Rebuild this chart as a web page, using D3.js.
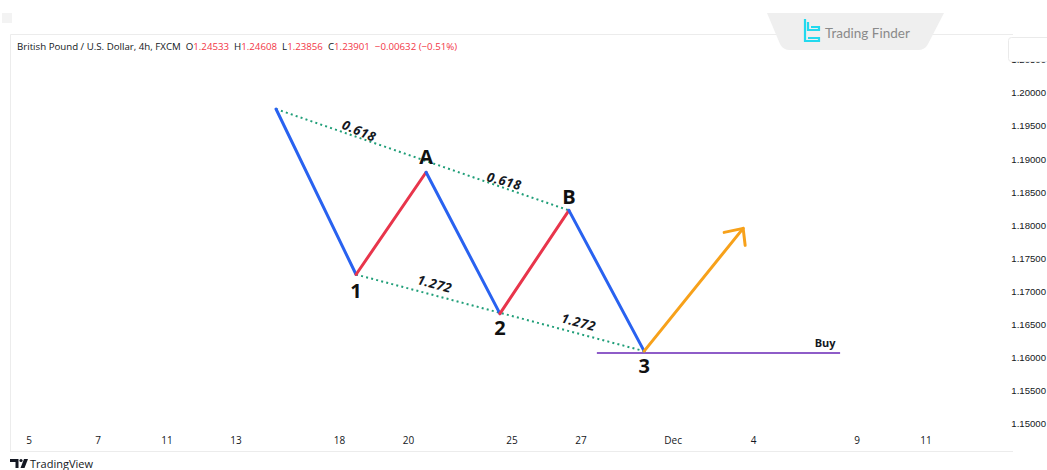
<!DOCTYPE html>
<html><head><meta charset="utf-8">
<script src="https://cdn.jsdelivr.net/npm/d3@7"></script>
<style>html,body{margin:0;padding:0;background:#fff;}svg{display:block;}</style>
</head><body>
<svg id="c" width="1047" height="470"></svg>
<script>
// ---- data ----
const dateTicks = ["5","7","11","13","18","20","25","27","Dec","4","9","11"];
const dateTickIndex = [0,2,4,6,9,11,14,16,18.67,21,24,26];
const priceTicks = [1.150,1.155,1.160,1.165,1.170,1.175,1.180,1.185,1.190,1.195,1.200,1.205];
const waveNames = ["start","1","A","2","B","3"];
const waveIndex = [7.16,9.48,11.51,13.65,15.65,17.83];
const wavePrice = [1.19758,1.17258,1.18803,1.16667,1.18227,1.16101];
const targetIndex = 20.70, targetPrice = 1.17955;
const buyStart = 16.46, buyEnd = 23.51, buyPrice = 1.16073;
const fibLabels = ["0.618","0.618","1.272","1.272"];
const fibLegs = [[0,2],[2,4],[1,3],[3,5]];
const headerParts = [["British Pound / U.S. Dollar, 4h, FXCM  ","#131722"],["O","#131722"],["1.24533  ","#f23645"],["H","#131722"],["1.24608  ","#f23645"],["L","#131722"],["1.23856  ","#f23645"],["C","#131722"],["1.23901  ","#f23645"],["\u22120.00632 (\u22120.51%)","#f23645"]];

// ---- scales ----
const x = d3.scaleLinear().domain([0,26]).range([29,926]);
const y = d3.scaleLinear().domain([1.15,1.20]).range([424,93]);
const svg = d3.select("#c");
const font = "'Open Sans', 'DejaVu Sans', sans-serif";

// frame
svg.append("rect").attr("x",2).attr("y",13).attr("width",10).attr("height",10).attr("fill","#f3f3f3");
svg.append("path").attr("d","M10.5,451 V34.5 H1013").attr("fill","none").attr("stroke","#ececec");
svg.append("line").attr("x1",10).attr("x2",1013).attr("y1",451.5).attr("y2",451.5).attr("stroke","#ececec");

// watermark tab
svg.append("path").attr("d","M767,13 H944 L928,44 Q925,50 918,50 H790 Q783,50 780,44 Z").attr("fill","#efefef");
const logo = svg.append("g").attr("fill","none").attr("stroke","#22d9ee").attr("stroke-width",2.2);
logo.append("path").attr("d","M805,19 V41 H819 V38 H808");
logo.append("path").attr("d","M808,22 V30 H819 V27 H811");
svg.append("text").attr("x",825).attr("y",38).attr("font-family","Lato, 'Open Sans', sans-serif").attr("font-size",13.5).attr("fill","#8a8a8a").text("Trading Finder");

// header
const h = svg.append("text").attr("x",17).attr("y",49.5).attr("font-family",font).attr("font-size",9.7).attr("xml:space","preserve");
headerParts.forEach(p=>h.append("tspan").attr("fill",p[1]).text(p[0]));

// price axis
svg.selectAll("text.py").data(priceTicks).join("text").attr("class","py")
  .attr("x",1046).attr("y",d=>y(d)).attr("dy","0.35em").attr("text-anchor","end")
  .attr("font-family","'Liberation Sans', Arial, sans-serif").attr("font-size",9.6).attr("fill","#131722")
  .text(d=>d3.format(".5f")(d));
svg.append("rect").attr("x",1008.5).attr("y",37.5).attr("width",45).attr("height",24).attr("rx",3)
  .attr("fill","#fff").attr("stroke","#eaeaea");

// date axis
svg.selectAll("text.dx").data(dateTicks).join("text").attr("class","dx")
  .attr("x",(d,i)=>x(dateTickIndex[i])).attr("y",440).attr("dy","0.35em").attr("text-anchor","middle")
  .attr("font-family",font).attr("font-size",10).attr("fill","#131722").text(d=>d);

// TradingView footer logo
const tv = svg.append("g").attr("fill","#131722");
tv.append("path").attr("d","M10,459 H18.5 V468 H15.5 V462 H10 Z");
tv.append("circle").attr("cx",21).attr("cy",460.5).attr("r",1.6);
tv.append("path").attr("d","M24,459 H28 L24.5,468 H20.5 Z");
svg.append("text").attr("x",30).attr("y",468).attr("font-family",font).attr("font-size",11).attr("fill","#131722").text("TradingView");

// fib dotted lines
const pts = waveIndex.map((v,i)=>[x(v),y(wavePrice[i])]);
const dot = (a,b)=>svg.append("line").attr("x1",a[0]).attr("y1",a[1]).attr("x2",b[0]).attr("y2",b[1])
  .attr("stroke","#1f9e78").attr("stroke-width",2).attr("stroke-dasharray","2,3.2");
dot(pts[0],pts[4]);
dot(pts[1],pts[5]);

// buy line
svg.append("line").attr("x1",x(buyStart)).attr("x2",x(buyEnd)).attr("y1",y(buyPrice)).attr("y2",y(buyPrice))
  .attr("stroke","#8e5cc8").attr("stroke-width",2);
svg.append("text").attr("x",x(buyEnd)-15).attr("y",y(buyPrice)-6).attr("text-anchor","middle")
  .attr("font-family",font).attr("font-weight","bold").attr("font-size",11).attr("fill","#131722").text("Buy");

// wave segments
for(let i=0;i<pts.length-1;i++){
  const up = wavePrice[i+1]>wavePrice[i];
  svg.append("line").attr("x1",pts[i][0]).attr("y1",pts[i][1]).attr("x2",pts[i+1][0]).attr("y2",pts[i+1][1])
    .attr("stroke",up?"#e8354b":"#2962f0").attr("stroke-width",3).attr("stroke-linecap","round");
}
// projection arrow
const p3 = pts[5], pt = [x(targetIndex),y(targetPrice)];
svg.append("line").attr("x1",p3[0]).attr("y1",p3[1]).attr("x2",pt[0]).attr("y2",pt[1])
  .attr("stroke","#f7a11a").attr("stroke-width",3).attr("stroke-linecap","round");
svg.append("path").attr("d",`M${pt[0]-19},${pt[1]+4} L${pt[0]},${pt[1]} L${pt[0]+2},${pt[1]+17}`)
  .attr("fill","none").attr("stroke","#f7a11a").attr("stroke-width",3).attr("stroke-linecap","round").attr("stroke-linejoin","round");

// fib labels
fibLegs.forEach((leg,i)=>{
  const a=pts[leg[0]], b=pts[leg[1]];
  const mx=(a[0]+b[0])/2, my=(a[1]+b[1])/2;
  const ang=Math.atan2(b[1]-a[1],b[0]-a[0]);
  const off=10.5, lx=mx+Math.sin(ang)*off+4, ly=my-Math.cos(ang)*off;
  svg.append("text").attr("transform",`translate(${lx},${ly}) rotate(${ang*180/Math.PI})`)
    .attr("text-anchor","middle").attr("dy","0.35em")
    .attr("font-family",font).attr("font-weight","bold").attr("font-style","italic").attr("font-size",13)
    .attr("letter-spacing",0.6).attr("fill","#131722").text(fibLabels[i]);
});

// wave point labels
const labelOff = {"1":16,"A":-15,"2":14,"B":-14,"3":15};
waveNames.forEach((n,i)=>{
  if(n==="start") return;
  svg.append("text").attr("x",pts[i][0]).attr("y",pts[i][1]+labelOff[n]).attr("dy","0.36em").attr("text-anchor","middle")
    .attr("font-family",font).attr("font-weight","bold").attr("font-size",20).attr("fill","#111").text(n);
});
</script>
</body></html>
